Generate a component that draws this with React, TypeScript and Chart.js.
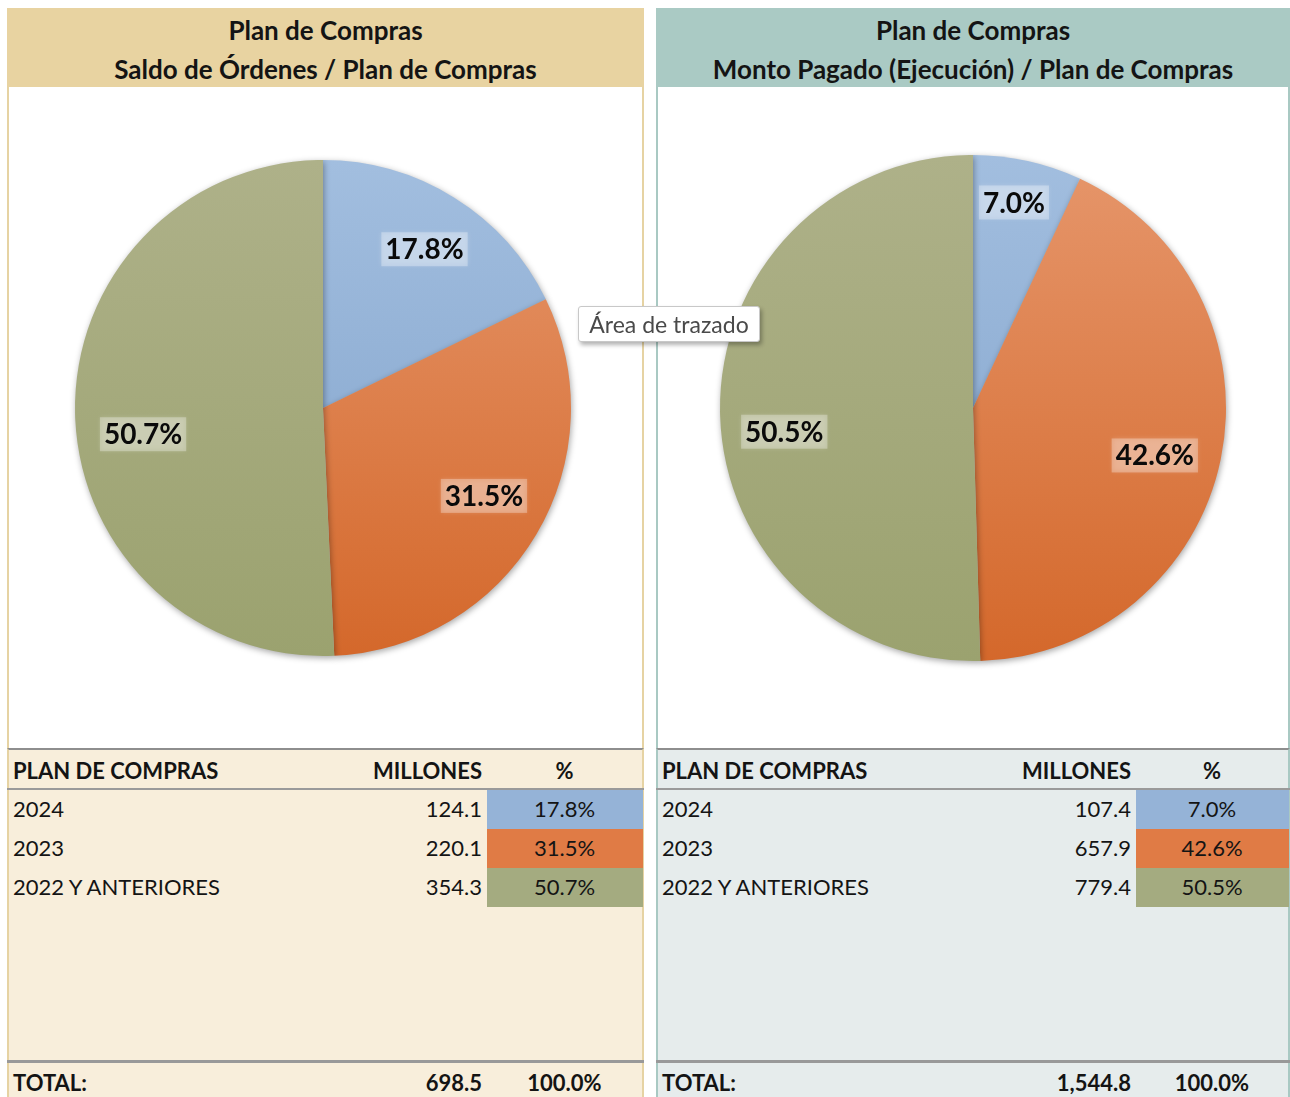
import React, { useEffect, useRef } from "react";
import { Chart, registerables } from "chart.js";

Chart.register(...registerables);

const CATEGORIES = ["2024", "2023", "2022 Y ANTERIORES"];
const SALDO_MILLONES = [124.1, 220.1, 354.3];
const PAGADO_MILLONES = [107.4, 657.9, 779.4];
const SALDO_TOTAL = 698.5;
const PAGADO_TOTAL = 1544.8;
const SLICE_TOP = ["#A2BEDF", "#E6966B", "#AEB189"];
const SLICE_BOTTOM = ["#7FA1CA", "#D4682B", "#9BA26F"];
const CELL_COLORS = ["#95B3D7", "#E07B45", "#A4AB80"];

const FONT = "Lato, 'Open Sans', sans-serif";

function pct(v: number, arr: number[]) {
  const s = arr.reduce((a, b) => a + b, 0);
  return ((v / s) * 100).toFixed(1) + "%";
}

function makeLabelPlugin(nudge: number[][]) {
  return {
    id: "pieLabels",
    beforeDatasetsDraw(chart: any) {
      const ctx = chart.ctx;
      ctx.save();
      ctx.shadowColor = "rgba(0,0,0,0.35)";
      ctx.shadowBlur = 6;
      ctx.shadowOffsetX = 1;
      ctx.shadowOffsetY = 2;
    },
    afterDatasetsDraw(chart: any) {
      const ctx = chart.ctx;
      ctx.restore();
      const meta = chart.getDatasetMeta(0);
      const data = chart.data.datasets[0].data as number[];
      const sum = data.reduce((a, b) => a + b, 0);
      meta.data.forEach((arc: any, i: number) => {
        const share = data[i] / sum;
        const mid = (arc.startAngle + arc.endAngle) / 2;
        const frac = share < 0.1 ? 0.82 : 0.75;
        const x = arc.x + Math.cos(mid) * arc.outerRadius * frac + nudge[i][0];
        const y = arc.y + Math.sin(mid) * arc.outerRadius * frac + nudge[i][1];
        const text = pct(data[i], data);
        ctx.save();
        ctx.font = `bold 28px ${FONT}`;
        const w = ctx.measureText(text).width + 8;
        const h = 34;
        ctx.shadowColor = "rgba(255,255,255,0.6)";
        ctx.shadowBlur = 5;
        ctx.fillStyle = "rgba(255,255,255,0.3)";
        ctx.fillRect(x - w / 2, y - h / 2, w, h);
        ctx.shadowBlur = 0;
        ctx.fillStyle = "#0A0A0A";
        ctx.textAlign = "center";
        ctx.textBaseline = "middle";
        ctx.fillText(text, x, y + 1);
        ctx.restore();
      });
    },
  };
}

function PieCanvas(props: { values: number[]; left: number; top: number; size: number; nudge: number[][] }) {
  const ref = useRef<HTMLCanvasElement>(null);
  useEffect(() => {
    if (!ref.current) return;
    const chart = new Chart(ref.current, {
      type: "pie",
      data: {
        labels: CATEGORIES,
        datasets: [
          {
            data: props.values,
            borderWidth: 0,
            backgroundColor: (c: any) => {
              const area = c.chart.chartArea;
              const i = c.dataIndex;
              if (!area) return CELL_COLORS[i];
              const g = c.chart.ctx.createLinearGradient(0, area.top, 0, area.bottom);
              g.addColorStop(0, SLICE_TOP[i]);
              g.addColorStop(1, SLICE_BOTTOM[i]);
              return g;
            },
          },
        ],
      },
      options: {
        animation: false,
        responsive: false,
        maintainAspectRatio: false,
        layout: { padding: 20 },
        plugins: { legend: { display: false }, tooltip: { enabled: false } },
      },
      plugins: [makeLabelPlugin(props.nudge)],
    });
    return () => chart.destroy();
  }, []);
  return (
    <canvas
      ref={ref}
      width={props.size}
      height={props.size}
      style={{ position: "absolute", left: props.left, top: props.top, width: props.size, height: props.size, zIndex: 2 }}
    />
  );
}

function Panel(props: {
  x: number;
  w: number;
  band: string;
  border: string;
  tableBg: string;
  title2: string;
  values: number[];
  total: number;
}) {
  const { x, w, band, border, tableBg, title2, values, total } = props;
  const rowTop = 790;
  const rowH = 39;
  const txt: React.CSSProperties = { position: "absolute", fontSize: 22, color: "#141414", lineHeight: "38px", whiteSpace: "nowrap" };
  const titleStyle: React.CSSProperties = { position: "absolute", left: 0, width: w, textAlign: "center", fontWeight: 700, fontSize: 26, lineHeight: "32px", color: "#141414", whiteSpace: "nowrap" };
  return (
    <div style={{ position: "absolute", left: x, top: 8, width: w, height: 1089 }}>
      <div style={{ position: "absolute", left: 0, top: 0, width: w, height: 79, background: band }}>
        <div style={{ ...titleStyle, top: 6 }}>Plan de Compras</div>
        <div style={{ ...titleStyle, top: 45 }}>{title2}</div>
      </div>
      <div style={{ position: "absolute", left: 0, top: 79, width: w - 4, height: 661, background: "#fff", borderLeft: `2px solid ${border}`, borderRight: `2px solid ${border}` }} />
      <div style={{ position: "absolute", left: 0, top: 740, width: w - 4, height: 349, background: tableBg, borderLeft: `2px solid ${border}`, borderRight: `2px solid ${border}`, borderTop: "2px solid #8E8E8E" }} />
      <div style={{ position: "absolute", left: 0, top: 780, width: w, height: 2, background: "#9A9A9A" }} />
      <div style={{ ...txt, top: 744, left: 6, fontWeight: 700 }}>PLAN DE COMPRAS</div>
      <div style={{ ...txt, top: 744, left: 275, width: 200, textAlign: "right", fontWeight: 700 }}>MILLONES</div>
      <div style={{ ...txt, top: 744, left: 480, width: w - 482, textAlign: "center", fontWeight: 700 }}>%</div>
      {CATEGORIES.map((c, i) => (
        <React.Fragment key={c}>
          <div style={{ position: "absolute", left: 480, top: rowTop - 8 + i * rowH, width: w - 481, height: rowH, background: CELL_COLORS[i] }} />
          <div style={{ ...txt, top: rowTop - 8 + i * rowH, left: 6 }}>{c}</div>
          <div style={{ ...txt, top: rowTop - 8 + i * rowH, left: 275, width: 200, textAlign: "right" }}>{values[i].toFixed(1)}</div>
          <div style={{ ...txt, top: rowTop - 8 + i * rowH, left: 480, width: w - 482, textAlign: "center" }}>{pct(values[i], values)}</div>
        </React.Fragment>
      ))}
      <div style={{ position: "absolute", left: 0, top: 1052, width: w, height: 3, background: "#999" }} />
      <div style={{ ...txt, top: 1056, left: 6, fontWeight: 700 }}>TOTAL:</div>
      <div style={{ ...txt, top: 1056, left: 275, width: 200, textAlign: "right", fontWeight: 700 }}>
        {total.toLocaleString("en-US", { minimumFractionDigits: 1, maximumFractionDigits: 1 })}
      </div>
      <div style={{ ...txt, top: 1056, left: 480, width: w - 482, textAlign: "center", fontWeight: 700 }}>100.0%</div>
    </div>
  );
}

export default function App() {
  return (
    <div style={{ position: "fixed", left: 0, top: 0, width: 1290, height: 1097, background: "#fff", overflow: "hidden", fontFamily: FONT }}>
      <Panel x={7} w={637} band="#E8D3A1" border="#E6D3A3" tableBg="#F8EEDB" title2="Saldo de Órdenes / Plan de Compras" values={SALDO_MILLONES} total={SALDO_TOTAL} />
      <Panel x={656} w={634} band="#AACAC4" border="#A9C9C3" tableBg="#E6ECEC" title2="Monto Pagado (Ejecución) / Plan de Compras" values={PAGADO_MILLONES} total={PAGADO_TOTAL} />
      <PieCanvas values={SALDO_MILLONES} left={55} top={140} size={536} nudge={[[3, -1], [1, -7], [6, 22]]} />
      <PieCanvas values={PAGADO_MILLONES} left={700} top={135} size={546} nudge={[[-4, -3], [-4, 9], [1, 21]]} />
      <div
        style={{
          position: "absolute",
          left: 578,
          top: 306,
          width: 182,
          height: 36,
          boxSizing: "border-box",
          background: "#fff",
          border: "1px solid #C8C8C8",
          borderRadius: 3,
          boxShadow: "2px 3px 4px rgba(0,0,0,0.3)",
          zIndex: 5,
          textAlign: "center",
          lineHeight: "34px",
          fontSize: 23,
          color: "#4A4A4A",
          fontFamily: FONT,
          whiteSpace: "nowrap",
        }}
      >
        Área de trazado
      </div>
    </div>
  );
}
